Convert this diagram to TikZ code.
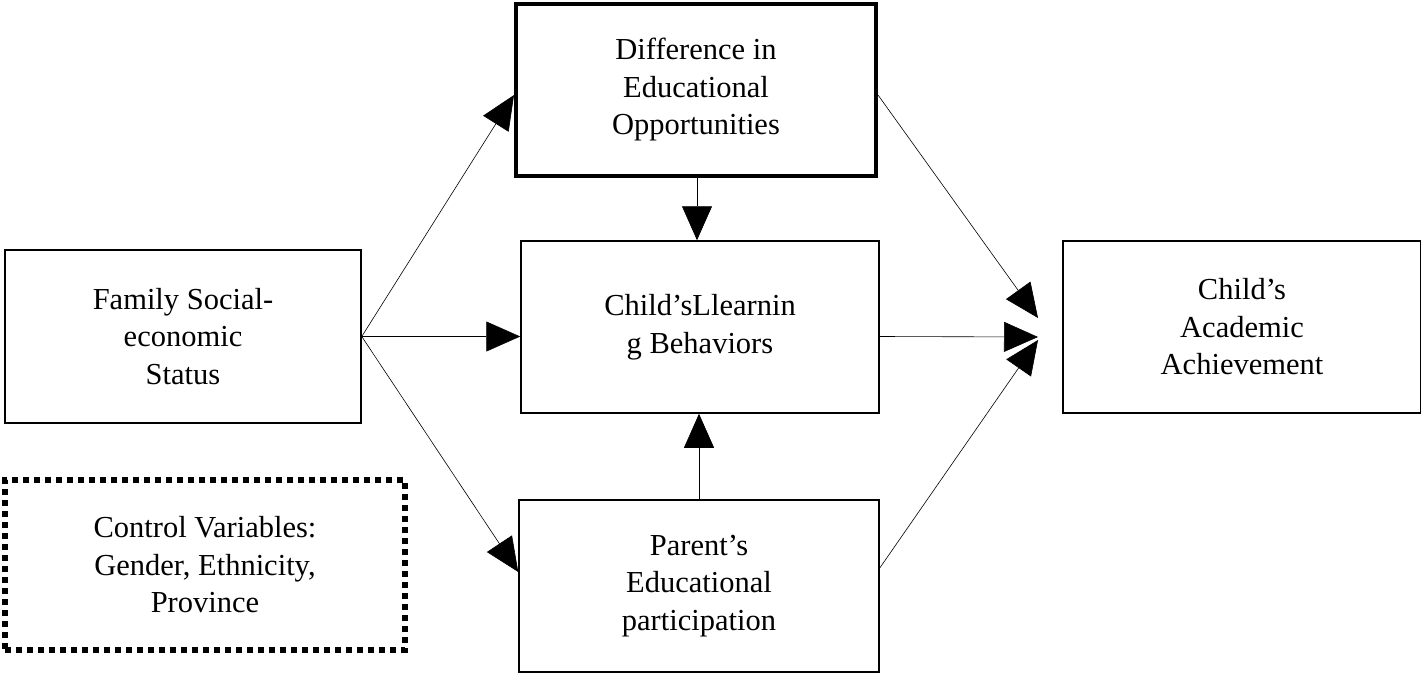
\documentclass[tikz,border=0pt]{standalone}
\usepackage{fontspec}
\setmainfont{Liberation Serif}
\usetikzlibrary{arrows.meta}
\begin{document}
\begin{tikzpicture}[x=1pt,y=-1pt,
  box/.style={draw,line width=1.5pt,align=center,font=\fontsize{30.5}{37.5}\selectfont},
  conn/.style={line width=0.6pt,-{Triangle[length=34pt,width=30pt]}}]
\useasboundingbox (0,0) rectangle (1421,674);
\node[box,minimum width=356pt,minimum height=173pt] (fam) at (183,336.5) {Family Social-\\economic\\Status};
\node[box,dash pattern=on 6pt off 5pt,line width=6pt,minimum width=400pt,minimum height=170pt] (ctl) at (205,565) {Control Variables:\\Gender, Ethnicity,\\Province};
\node[box,line width=4pt,minimum width=360pt,minimum height=172pt] (dif) at (696,90) {Difference in\\Educational\\Opportunities};
\node[box,minimum width=358pt,minimum height=172pt] (clb) at (700,327) {Child’sLlearnin\\g Behaviors};
\node[box,minimum width=360pt,minimum height=172pt] (par) at (699,586) {Parent’s\\Educational\\participation};
\node[box,minimum width=358pt,minimum height=172pt] (ach) at (1242,327) {Child’s\\Academic\\Achievement};
\coordinate (a1) at (1038,318);
\coordinate (a2) at (1038,337);
\coordinate (a3) at (1038,340);
\draw[conn] (fam.east) -- (dif.west |- 0,95);
\draw[conn] (fam.east) -- (clb.west |- fam.east);
\draw[conn] (fam.east) -- (par.west |- 0,572);
\draw[conn] (dif.south -| 697,0) -- (clb.north -| 697,0);
\draw[conn] (par.north -| 699,0) -- (clb.south -| 699,0);
\draw[conn] (dif.east |- 0,95) -- (a1);
\draw[conn] (clb.east |- fam.east) -- (a2);
\draw[conn] (par.east |- 0,568) -- (a3);
\end{tikzpicture}
\end{document}
